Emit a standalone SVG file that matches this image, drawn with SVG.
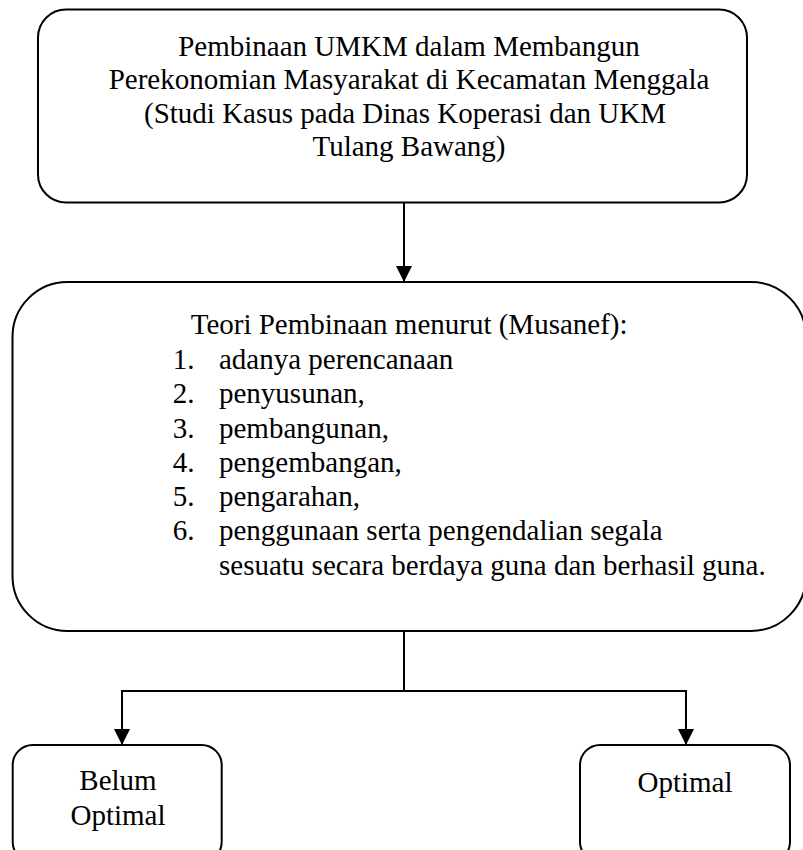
<svg xmlns="http://www.w3.org/2000/svg" width="803" height="850" viewBox="0 0 803 850">
<defs>
<style>
.box{fill:#fff;stroke:#000;stroke-width:2}
.t{font-family:"Liberation Serif","Times New Roman",serif;font-size:29px;fill:#000}
.c{text-anchor:middle}
.ln{fill:none;stroke:#000;stroke-width:2}
</style>
<marker id="ah" viewBox="0 0 16 20" refX="16" refY="10" markerWidth="16" markerHeight="20" markerUnits="userSpaceOnUse" orient="auto">
<path d="M0,2 L16,10 L0,18 Z" fill="#000"/>
</marker>
</defs>
<rect width="803" height="850" fill="#fff"/>
<g id="connectors">
<line class="ln" x1="404" y1="203" x2="404" y2="282" marker-end="url(#ah)"/>
<polyline class="ln" points="404,631 404,691"/>
<polyline class="ln" points="122,745 122,691 686,691 686,745" marker-end="url(#ah)"/>
<line class="ln" x1="122" y1="691" x2="122" y2="745" marker-end="url(#ah)"/>
</g>
<g id="node-judul">
<rect class="box" x="38" y="9.5" width="709" height="193" rx="28" ry="28"/>
<text class="t c" x="409" y="55.5">Pembinaan UMKM dalam Membangun</text>
<text class="t c" x="409" y="89">Perekonomian Masyarakat di Kecamatan Menggala</text>
<text class="t c" x="405" y="122.5">(Studi Kasus pada Dinas Koperasi dan UKM</text>
<text class="t c" x="409" y="156">Tulang Bawang)</text>
</g>
<g id="node-teori">
<rect class="box" x="12.5" y="282" width="793.5" height="349" rx="55" ry="55"/>
<text class="t" x="190.7" y="334.3">Teori Pembinaan menurut (Musanef):</text>
<text class="t" x="172.7" y="369">1.</text><text class="t" x="219" y="369">adanya perencanaan</text>
<text class="t" x="172.7" y="403">2.</text><text class="t" x="219" y="403">penyusunan,</text>
<text class="t" x="172.7" y="437.5">3.</text><text class="t" x="219" y="437.5">pembangunan,</text>
<text class="t" x="172.7" y="471.5">4.</text><text class="t" x="219" y="471.5">pengembangan,</text>
<text class="t" x="172.7" y="506">5.</text><text class="t" x="219" y="506">pengarahan,</text>
<text class="t" x="172.7" y="540">6.</text><text class="t" x="219" y="540">penggunaan serta pengendalian segala</text>
<text class="t" x="219" y="574.5">sesuatu secara berdaya guna dan berhasil guna.</text>
</g>
<g id="node-belum-optimal">
<rect class="box" x="12.7" y="745" width="209" height="117" rx="20" ry="20"/>
<text class="t c" x="118" y="789.5">Belum</text>
<text class="t c" x="118" y="825">Optimal</text>
</g>
<g id="node-optimal">
<rect class="box" x="580" y="745" width="210" height="117" rx="20" ry="20"/>
<text class="t c" x="685" y="791.5">Optimal</text>
</g>
</svg>
